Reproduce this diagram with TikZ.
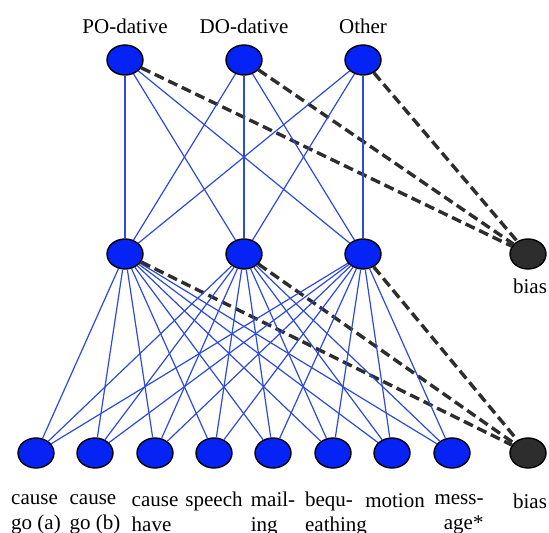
\documentclass[tikz,border=0pt]{standalone}
\usepackage{fontspec}
\setmainfont{Liberation Serif}
\usetikzlibrary{shapes.geometric}
\definecolor{unitblue}{RGB}{5,35,245}
\definecolor{linkblue}{RGB}{45,75,215}
\definecolor{biasgray}{RGB}{45,45,45}
\begin{document}
\begin{tikzpicture}[x=0.5pt,y=-0.5pt,
        unit/.style = {ellipse,draw=black,line width=0.7pt,fill=unitblue,
                       minimum width=18pt,minimum height=15pt,inner sep=0pt},
        biasunit/.style = {unit,fill=biasgray},
        link/.style = {linkblue,line width=0.6pt},
        biaslink/.style = {biasgray,line width=1.7pt,dash pattern=on 5pt off 2.5pt},
        lab/.style = {font=\fontsize{10.5}{12.5}\selectfont,align=left,inner sep=0pt}]
    \useasboundingbox (0,0) rectangle (549,533);

    % output layer
    \node[unit] (o1) at (125,60) {};
    \node[unit] (o2) at (244,60) {};
    \node[unit] (o3) at (363,60) {};
    \node[biasunit] (b1) at (528,254) {};

    % hidden layer
    \node[unit] (h1) at (125,254) {};
    \node[unit] (h2) at (244,254) {};
    \node[unit] (h3) at (363,254) {};

    % input layer
    \node[unit] (i1) at (36,453) {};
    \node[unit] (i2) at (95,453) {};
    \node[unit] (i3) at (155,453) {};
    \node[unit] (i4) at (214,453) {};
    \node[unit] (i5) at (273,453) {};
    \node[unit] (i6) at (333,453) {};
    \node[unit] (i7) at (392,453) {};
    \node[unit] (i8) at (452,453) {};
    \node[biasunit] (b2) at (528,453) {};

    % connections
    \foreach \o in {1,2,3} {
        \foreach \h in {1,2,3}
            \draw[link] (o\o) -- (h\h);
        \draw[biaslink] (o\o) -- (b1);
    }
    \foreach \h in {1,2,3} {
        \foreach \i in {1,...,8}
            \draw[link] (h\h) -- (i\i);
        \draw[biaslink] (h\h) -- (b2);
    }

    % labels
    \node[lab] (lo1) at (125,26) {PO-dative};
    \node[lab] (lo2) at (244,26) {DO-dative};
    \node[lab] (lo3) at (363,26) {Other};
    \node[lab] (lb1) at (530,286) {bias};
    \node[lab] (li1) at (36,514) {cause\\go (a)};
    \node[lab] (li2) at (95,514) {cause\\go (b)};
    \node[lab] (li3) at (155,514) {cause\\have};
    \node[lab] (li4) at (214,501) {speech};
    \node[lab] (li5) at (273,514) {mail-\\ing};
    \node[lab] (li6) at (336,514) {bequ-\\eathing};
    \node[lab] (li7) at (395,501) {motion};
    \node[lab,align=right] (li8) at (459,514) {mess-\\age*};
    \node[lab] (lb2) at (530,501) {bias};
\end{tikzpicture}
\end{document}
